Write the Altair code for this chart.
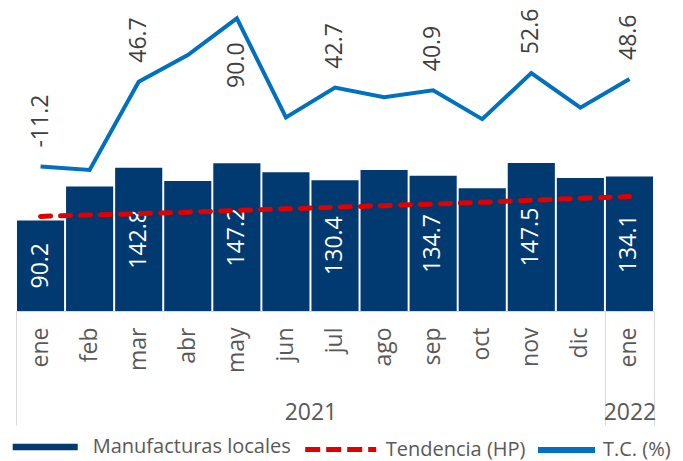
import altair as alt
import pandas as pd

# ---------------- data ----------------
meses = ["ene", "feb", "mar", "abr", "may", "jun", "jul", "ago", "sep", "oct", "nov", "dic", "ene"]
anios = ["2021"] * 12 + ["2022"]
manufacturas = [90.2, 124.0, 142.8, 129.6, 147.2, 138.3, 130.4, 140.6, 134.7, 122.3, 147.5, 132.6, 134.1]
tendencia = [94.3, 95.6, 97.0, 98.5, 100.2, 101.8, 103.4, 105.0, 106.6, 108.4, 110.4, 112.3, 114.0]
tc = [-11.2, -13.5, 46.7, 65.0, 90.0, 22.4, 42.7, 36.1, 40.9, 21.2, 52.6, 29.0, 48.6]
con_etiqueta = [True, False, True, False, True, False, True, False, True, False, True, False, True]
etiqueta_abajo = [False, False, False, False, True, False, False, False, False, False, False, False, False]
series = ["Manufacturas locales", "Tendencia (HP)", "T.C. (%)"]

# ---------------- styles ----------------
NAVY = "#003A70"
RED = "#E00000"
BLUE = "#0070C0"
GRAY_TXT = "#595959"
DARK_TXT = "#404040"
LINE_GRAY = "#D9D9D9"
FONT = "Open Sans"

n = len(meses)
keys = [f"{m}-{a}" for m, a in zip(meses, anios)]
df = pd.DataFrame({
    "key": keys,
    "manuf": manufacturas,
    "tend": tendencia,
    "tc": tc,
    "lab": con_etiqueta,
    "abajo": etiqueta_abajo,
    "manuf_txt": [f"{v:.1f}" for v in manufacturas],
    "tc_txt": [f"{v:.1f}" for v in tc],
})

# year groups -> centre positions and separators on a 0..n continuous scale
years = []
for a in anios:
    if a not in years:
        years.append(a)
centers, seps = [], []
for a in years:
    idx = [i for i, v in enumerate(anios) if v == a]
    centers.append((idx[0] + idx[-1] + 1) / 2)
    seps.append(idx[0])
seps.append(n)
tick_vals = sorted(set(seps + centers))
label_expr = " : ".join(f"datum.value == {c} ? '{a}'" for c, a in zip(centers, years)) + " : ''"
center_test = " || ".join(f"datum.value == {c}" for c in centers)
df_year = pd.DataFrame({"pos": tick_vals})

W, H = 638, 303
YLINE_DOM = [-109.9, 97.1]
xs = alt.Scale(domain=keys, paddingInner=0.04, paddingOuter=0.02)
ybar = alt.Scale(domain=[0, 302], nice=False, zero=False)
yline = alt.Scale(domain=YLINE_DOM, nice=False, zero=False)
units_per_px = (YLINE_DOM[1] - YLINE_DOM[0]) / H
GAP_UP = 19 * units_per_px     # label gap above the point (px -> units)
GAP_DOWN = 24 * units_per_px   # label gap below the point

LEG_Y = 439  # centre of legend row, relative to plot top
BAR_SYMBOL = "M-1,-0.1H1V0.1H-1Z"


def make_legend(x, length, width, offset, dash=None, shape="stroke"):
    kw = dict(
        title=None, orient="none", direction="horizontal", legendX=x, legendY=LEG_Y - length / 2,
        symbolType=shape, symbolSize=length * length, symbolStrokeWidth=width,
        labelFont=FONT, labelFontSize=20, labelColor=GRAY_TXT, labelOffset=offset,
        labelLimit=400, padding=0, symbolOpacity=1,
    )
    if dash is not None:
        kw["symbolDash"] = dash
    return alt.Legend(**kw)


x_main = alt.X(
    "key:N", scale=xs, sort=keys, title=None,
    axis=alt.Axis(orient="bottom", labelAngle=270, labelFont=FONT, labelFontSize=23, labelColor=GRAY_TXT,
                  labelPadding=16, ticks=False, domainColor=LINE_GRAY, domainWidth=1, grid=False,
                  labelExpr="split(datum.value, '-')[0]", labelOverlap=False),
)
x_hidden = alt.X("key:N", scale=xs, sort=keys, axis=None)

base = alt.Chart(df)

bars = base.mark_bar().transform_calculate(serie=f"'{series[0]}'").encode(
    x=x_main,
    y=alt.Y("manuf:Q", scale=ybar, axis=None),
    fill=alt.Fill("serie:N", scale=alt.Scale(domain=[series[0]], range=[NAVY]),
                  legend=make_legend(-3.3, 65, 0, 15, shape=BAR_SYMBOL)),
)

bar_text = base.transform_filter("datum.lab").transform_calculate(mid="datum.manuf / 2").mark_text(
    angle=270, align="center", baseline="middle", font=FONT, fontSize=23, color="white"
).encode(
    x=x_hidden,
    y=alt.Y("mid:Q", scale=ybar, axis=None),
    text="manuf_txt:N",
)

trend = base.mark_line(strokeWidth=5, strokeDash=[10, 10], strokeCap="round").transform_calculate(
    serie=f"'{series[1]}'"
).encode(
    x=x_hidden,
    y=alt.Y("tend:Q", scale=ybar, axis=None),
    color=alt.Color("serie:N", scale=alt.Scale(domain=[series[1]], range=[RED]),
                    legend=make_legend(286.7, 71, 5, 7, dash=[15, 6])),
)

line = base.mark_line(strokeWidth=4).transform_calculate(serie=f"'{series[2]}'").encode(
    x=x_hidden,
    y=alt.Y("tc:Q", scale=yline, axis=None),
    stroke=alt.Stroke("serie:N", scale=alt.Scale(domain=[series[2]], range=[BLUE]),
                      legend=make_legend(519, 57, 6, 5)),
)

line_text_up = base.transform_filter("datum.lab && !datum.abajo").transform_calculate(
    ly=f"datum.tc + {GAP_UP}"
).mark_text(
    angle=270, align="left", baseline="middle", font=FONT, fontSize=23, color=DARK_TXT
).encode(
    x=x_hidden,
    y=alt.Y("ly:Q", scale=yline, axis=None),
    text="tc_txt:N",
)

line_text_down = base.transform_filter("datum.lab && datum.abajo").transform_calculate(
    ly=f"datum.tc - {GAP_DOWN}"
).mark_text(
    angle=270, align="right", baseline="middle", font=FONT, fontSize=23, color=DARK_TXT
).encode(
    x=x_hidden,
    y=alt.Y("ly:Q", scale=yline, axis=None),
    text="tc_txt:N",
)

year_axis = alt.Chart(df_year).mark_point(opacity=0, size=1, strokeWidth=0, filled=True).encode(
    x=alt.X(
        "pos:Q", scale=alt.Scale(domain=[0, n], nice=False, zero=False), title=None,
        axis=alt.Axis(
            orient="bottom", values=tick_vals, labelExpr=label_expr, tickSize=114, tickWidth=1,
            tickColor={"condition": {"test": center_test, "value": "transparent"}, "value": LINE_GRAY},
            domain=False, grid=False, labelPadding=-24, labelAngle=0, labelFont=FONT, labelFontSize=23,
            labelColor=GRAY_TXT, labelFlush=False, labelOverlap=False, labelBaseline="top",
        ),
    ),
    y=alt.value(150),
)

chart = alt.layer(
    bars, bar_text, trend, line, line_text_up, line_text_down, year_axis
).resolve_scale(
    x="independent", y="independent"
).properties(
    width=W, height=H, padding={"left": 4, "top": 0, "right": 0, "bottom": 0}, background="white"
).configure_view(strokeOpacity=0)

chart.save("out.html", embed_options={"renderer": "svg", "actions": False})
